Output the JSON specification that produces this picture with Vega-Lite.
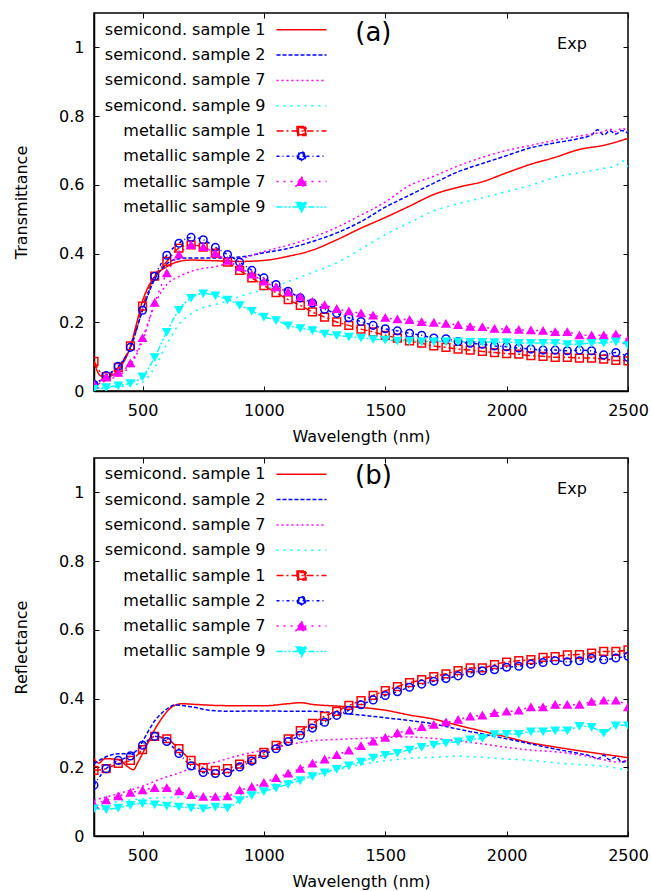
{
"$schema": "https://vega.github.io/schema/vega-lite/v6.json",
"padding": {"left": 12, "top": 11, "right": 5, "bottom": 0},
"spacing": 11,
"config": {
  "font": "DejaVu Sans",
  "view": {"stroke": "black", "strokeWidth": 1.5},
  "axis": {"grid": false, "labelFont": "DejaVu Sans", "labelFontSize": 16, "labelColor": "black", "titleFont": "DejaVu Sans", "titleFontSize": 16, "titleFontWeight": "normal", "titleColor": "black", "domainColor": "black", "domainWidth": 1.5, "tickColor": "black", "tickSize": -5, "tickWidth": 1, "labelFlush": false},
  "axisX": {"labelPadding": 16, "titlePadding": 10},
  "axisY": {"labelPadding": 15, "titlePadding": 29},
  "legend": {"orient": "none", "legendX": 199.5, "legendY": 8.8, "padding": 0, "labelFont": "DejaVu Sans", "labelFontSize": 16, "labelColor": "black", "labelLimit": 400, "symbolSize": 100, "symbolStrokeWidth": 1.5, "labelAlign": "right", "labelOffset": -44, "rowPadding": 9.3, "title": null}
},
"resolve": {"scale": {"color": "independent", "strokeDash": "independent", "stroke": "independent", "fill": "independent", "shape": "independent", "size": "independent"}},
"datasets": {
"T": [
{"s":"semicond. sample 1","w":300,"v":0.085},{"s":"semicond. sample 1","w":325,"v":0.045},{"s":"semicond. sample 1","w":350,"v":0.04},{"s":"semicond. sample 1","w":400,"v":0.062},{"s":"semicond. sample 1","w":450,"v":0.13},{"s":"semicond. sample 1","w":475,"v":0.195},{"s":"semicond. sample 1","w":500,"v":0.262},{"s":"semicond. sample 1","w":525,"v":0.305},{"s":"semicond. sample 1","w":550,"v":0.333},{"s":"semicond. sample 1","w":600,"v":0.362},{"s":"semicond. sample 1","w":650,"v":0.377},{"s":"semicond. sample 1","w":700,"v":0.381},{"s":"semicond. sample 1","w":800,"v":0.379},{"s":"semicond. sample 1","w":900,"v":0.377},{"s":"semicond. sample 1","w":1000,"v":0.38},{"s":"semicond. sample 1","w":1100,"v":0.392},{"s":"semicond. sample 1","w":1200,"v":0.41},{"s":"semicond. sample 1","w":1300,"v":0.44},{"s":"semicond. sample 1","w":1400,"v":0.474},{"s":"semicond. sample 1","w":1500,"v":0.505},{"s":"semicond. sample 1","w":1600,"v":0.538},{"s":"semicond. sample 1","w":1700,"v":0.572},{"s":"semicond. sample 1","w":1800,"v":0.593},{"s":"semicond. sample 1","w":1900,"v":0.609},{"s":"semicond. sample 1","w":2000,"v":0.635},{"s":"semicond. sample 1","w":2100,"v":0.66},{"s":"semicond. sample 1","w":2200,"v":0.68},{"s":"semicond. sample 1","w":2300,"v":0.703},{"s":"semicond. sample 1","w":2400,"v":0.715},{"s":"semicond. sample 1","w":2500,"v":0.735},
{"s":"semicond. sample 2","w":300,"v":0.02},{"s":"semicond. sample 2","w":350,"v":0.04},{"s":"semicond. sample 2","w":400,"v":0.07},{"s":"semicond. sample 2","w":450,"v":0.125},{"s":"semicond. sample 2","w":500,"v":0.235},{"s":"semicond. sample 2","w":550,"v":0.325},{"s":"semicond. sample 2","w":600,"v":0.37},{"s":"semicond. sample 2","w":650,"v":0.385},{"s":"semicond. sample 2","w":700,"v":0.387},{"s":"semicond. sample 2","w":800,"v":0.387},{"s":"semicond. sample 2","w":900,"v":0.39},{"s":"semicond. sample 2","w":1000,"v":0.402},{"s":"semicond. sample 2","w":1100,"v":0.415},{"s":"semicond. sample 2","w":1200,"v":0.435},{"s":"semicond. sample 2","w":1300,"v":0.46},{"s":"semicond. sample 2","w":1400,"v":0.493},{"s":"semicond. sample 2","w":1500,"v":0.535},{"s":"semicond. sample 2","w":1600,"v":0.57},{"s":"semicond. sample 2","w":1700,"v":0.605},{"s":"semicond. sample 2","w":1800,"v":0.638},{"s":"semicond. sample 2","w":1900,"v":0.662},{"s":"semicond. sample 2","w":2000,"v":0.685},{"s":"semicond. sample 2","w":2100,"v":0.708},{"s":"semicond. sample 2","w":2200,"v":0.722},{"s":"semicond. sample 2","w":2300,"v":0.735},{"s":"semicond. sample 2","w":2350,"v":0.745},{"s":"semicond. sample 2","w":2375,"v":0.76},{"s":"semicond. sample 2","w":2400,"v":0.745},{"s":"semicond. sample 2","w":2425,"v":0.757},{"s":"semicond. sample 2","w":2450,"v":0.748},{"s":"semicond. sample 2","w":2475,"v":0.758},{"s":"semicond. sample 2","w":2500,"v":0.75},
{"s":"semicond. sample 7","w":300,"v":0.015},{"s":"semicond. sample 7","w":350,"v":0.03},{"s":"semicond. sample 7","w":400,"v":0.045},{"s":"semicond. sample 7","w":450,"v":0.075},{"s":"semicond. sample 7","w":500,"v":0.146},{"s":"semicond. sample 7","w":550,"v":0.252},{"s":"semicond. sample 7","w":600,"v":0.31},{"s":"semicond. sample 7","w":650,"v":0.333},{"s":"semicond. sample 7","w":700,"v":0.348},{"s":"semicond. sample 7","w":750,"v":0.357},{"s":"semicond. sample 7","w":800,"v":0.362},{"s":"semicond. sample 7","w":900,"v":0.383},{"s":"semicond. sample 7","w":1000,"v":0.406},{"s":"semicond. sample 7","w":1100,"v":0.424},{"s":"semicond. sample 7","w":1200,"v":0.447},{"s":"semicond. sample 7","w":1300,"v":0.476},{"s":"semicond. sample 7","w":1400,"v":0.512},{"s":"semicond. sample 7","w":1500,"v":0.55},{"s":"semicond. sample 7","w":1600,"v":0.598},{"s":"semicond. sample 7","w":1700,"v":0.625},{"s":"semicond. sample 7","w":1800,"v":0.655},{"s":"semicond. sample 7","w":1900,"v":0.68},{"s":"semicond. sample 7","w":2000,"v":0.7},{"s":"semicond. sample 7","w":2100,"v":0.715},{"s":"semicond. sample 7","w":2200,"v":0.73},{"s":"semicond. sample 7","w":2300,"v":0.742},{"s":"semicond. sample 7","w":2350,"v":0.748},{"s":"semicond. sample 7","w":2400,"v":0.755},{"s":"semicond. sample 7","w":2425,"v":0.762},{"s":"semicond. sample 7","w":2450,"v":0.755},{"s":"semicond. sample 7","w":2475,"v":0.765},{"s":"semicond. sample 7","w":2500,"v":0.753},
{"s":"semicond. sample 9","w":300,"v":0.005},{"s":"semicond. sample 9","w":350,"v":0.008},{"s":"semicond. sample 9","w":400,"v":0.012},{"s":"semicond. sample 9","w":450,"v":0.017},{"s":"semicond. sample 9","w":500,"v":0.025},{"s":"semicond. sample 9","w":550,"v":0.069},{"s":"semicond. sample 9","w":600,"v":0.136},{"s":"semicond. sample 9","w":650,"v":0.194},{"s":"semicond. sample 9","w":700,"v":0.225},{"s":"semicond. sample 9","w":750,"v":0.243},{"s":"semicond. sample 9","w":800,"v":0.252},{"s":"semicond. sample 9","w":850,"v":0.262},{"s":"semicond. sample 9","w":900,"v":0.275},{"s":"semicond. sample 9","w":1000,"v":0.295},{"s":"semicond. sample 9","w":1100,"v":0.318},{"s":"semicond. sample 9","w":1200,"v":0.345},{"s":"semicond. sample 9","w":1300,"v":0.373},{"s":"semicond. sample 9","w":1400,"v":0.413},{"s":"semicond. sample 9","w":1500,"v":0.455},{"s":"semicond. sample 9","w":1600,"v":0.49},{"s":"semicond. sample 9","w":1700,"v":0.524},{"s":"semicond. sample 9","w":1800,"v":0.545},{"s":"semicond. sample 9","w":1900,"v":0.562},{"s":"semicond. sample 9","w":2000,"v":0.58},{"s":"semicond. sample 9","w":2100,"v":0.599},{"s":"semicond. sample 9","w":2200,"v":0.622},{"s":"semicond. sample 9","w":2300,"v":0.635},{"s":"semicond. sample 9","w":2400,"v":0.648},{"s":"semicond. sample 9","w":2450,"v":0.655},{"s":"semicond. sample 9","w":2475,"v":0.67},{"s":"semicond. sample 9","w":2500,"v":0.652},
{"s":"metallic sample 1","w":300,"v":0.086},{"s":"metallic sample 1","w":350,"v":0.042},{"s":"metallic sample 1","w":400,"v":0.069},{"s":"metallic sample 1","w":450,"v":0.131},{"s":"metallic sample 1","w":500,"v":0.247},{"s":"metallic sample 1","w":550,"v":0.334},{"s":"metallic sample 1","w":600,"v":0.377},{"s":"metallic sample 1","w":650,"v":0.416},{"s":"metallic sample 1","w":700,"v":0.425},{"s":"metallic sample 1","w":750,"v":0.419},{"s":"metallic sample 1","w":800,"v":0.401},{"s":"metallic sample 1","w":850,"v":0.375},{"s":"metallic sample 1","w":900,"v":0.351},{"s":"metallic sample 1","w":950,"v":0.329},{"s":"metallic sample 1","w":1000,"v":0.307},{"s":"metallic sample 1","w":1050,"v":0.286},{"s":"metallic sample 1","w":1100,"v":0.266},{"s":"metallic sample 1","w":1150,"v":0.249},{"s":"metallic sample 1","w":1200,"v":0.23},{"s":"metallic sample 1","w":1250,"v":0.215},{"s":"metallic sample 1","w":1300,"v":0.201},{"s":"metallic sample 1","w":1350,"v":0.191},{"s":"metallic sample 1","w":1400,"v":0.18},{"s":"metallic sample 1","w":1450,"v":0.172},{"s":"metallic sample 1","w":1500,"v":0.162},{"s":"metallic sample 1","w":1550,"v":0.154},{"s":"metallic sample 1","w":1600,"v":0.146},{"s":"metallic sample 1","w":1650,"v":0.139},{"s":"metallic sample 1","w":1700,"v":0.131},{"s":"metallic sample 1","w":1750,"v":0.127},{"s":"metallic sample 1","w":1800,"v":0.122},{"s":"metallic sample 1","w":1850,"v":0.119},{"s":"metallic sample 1","w":1900,"v":0.115},{"s":"metallic sample 1","w":1950,"v":0.112},{"s":"metallic sample 1","w":2000,"v":0.109},{"s":"metallic sample 1","w":2050,"v":0.107},{"s":"metallic sample 1","w":2100,"v":0.103},{"s":"metallic sample 1","w":2150,"v":0.101},{"s":"metallic sample 1","w":2200,"v":0.098},{"s":"metallic sample 1","w":2250,"v":0.098},{"s":"metallic sample 1","w":2300,"v":0.096},{"s":"metallic sample 1","w":2350,"v":0.096},{"s":"metallic sample 1","w":2400,"v":0.093},{"s":"metallic sample 1","w":2450,"v":0.089},{"s":"metallic sample 1","w":2500,"v":0.088},
{"s":"metallic sample 2","w":300,"v":0.019},{"s":"metallic sample 2","w":350,"v":0.045},{"s":"metallic sample 2","w":400,"v":0.072},{"s":"metallic sample 2","w":450,"v":0.127},{"s":"metallic sample 2","w":500,"v":0.235},{"s":"metallic sample 2","w":550,"v":0.334},{"s":"metallic sample 2","w":600,"v":0.395},{"s":"metallic sample 2","w":650,"v":0.43},{"s":"metallic sample 2","w":700,"v":0.447},{"s":"metallic sample 2","w":750,"v":0.44},{"s":"metallic sample 2","w":800,"v":0.418},{"s":"metallic sample 2","w":850,"v":0.397},{"s":"metallic sample 2","w":900,"v":0.375},{"s":"metallic sample 2","w":950,"v":0.351},{"s":"metallic sample 2","w":1000,"v":0.329},{"s":"metallic sample 2","w":1050,"v":0.31},{"s":"metallic sample 2","w":1100,"v":0.29},{"s":"metallic sample 2","w":1150,"v":0.271},{"s":"metallic sample 2","w":1200,"v":0.256},{"s":"metallic sample 2","w":1250,"v":0.238},{"s":"metallic sample 2","w":1300,"v":0.226},{"s":"metallic sample 2","w":1350,"v":0.213},{"s":"metallic sample 2","w":1400,"v":0.202},{"s":"metallic sample 2","w":1450,"v":0.191},{"s":"metallic sample 2","w":1500,"v":0.181},{"s":"metallic sample 2","w":1550,"v":0.175},{"s":"metallic sample 2","w":1600,"v":0.168},{"s":"metallic sample 2","w":1650,"v":0.162},{"s":"metallic sample 2","w":1700,"v":0.154},{"s":"metallic sample 2","w":1750,"v":0.152},{"s":"metallic sample 2","w":1800,"v":0.144},{"s":"metallic sample 2","w":1850,"v":0.139},{"s":"metallic sample 2","w":1900,"v":0.136},{"s":"metallic sample 2","w":1950,"v":0.131},{"s":"metallic sample 2","w":2000,"v":0.129},{"s":"metallic sample 2","w":2050,"v":0.125},{"s":"metallic sample 2","w":2100,"v":0.122},{"s":"metallic sample 2","w":2150,"v":0.119},{"s":"metallic sample 2","w":2200,"v":0.119},{"s":"metallic sample 2","w":2250,"v":0.117},{"s":"metallic sample 2","w":2300,"v":0.119},{"s":"metallic sample 2","w":2350,"v":0.117},{"s":"metallic sample 2","w":2400,"v":0.105},{"s":"metallic sample 2","w":2450,"v":0.112},{"s":"metallic sample 2","w":2500,"v":0.098},
{"s":"metallic sample 7","w":300,"v":0.019},{"s":"metallic sample 7","w":350,"v":0.04},{"s":"metallic sample 7","w":400,"v":0.053},{"s":"metallic sample 7","w":450,"v":0.081},{"s":"metallic sample 7","w":500,"v":0.154},{"s":"metallic sample 7","w":550,"v":0.257},{"s":"metallic sample 7","w":600,"v":0.343},{"s":"metallic sample 7","w":650,"v":0.397},{"s":"metallic sample 7","w":700,"v":0.425},{"s":"metallic sample 7","w":750,"v":0.419},{"s":"metallic sample 7","w":800,"v":0.401},{"s":"metallic sample 7","w":850,"v":0.379},{"s":"metallic sample 7","w":900,"v":0.36},{"s":"metallic sample 7","w":950,"v":0.339},{"s":"metallic sample 7","w":1000,"v":0.319},{"s":"metallic sample 7","w":1050,"v":0.302},{"s":"metallic sample 7","w":1100,"v":0.288},{"s":"metallic sample 7","w":1150,"v":0.274},{"s":"metallic sample 7","w":1200,"v":0.26},{"s":"metallic sample 7","w":1250,"v":0.25},{"s":"metallic sample 7","w":1300,"v":0.239},{"s":"metallic sample 7","w":1350,"v":0.232},{"s":"metallic sample 7","w":1400,"v":0.226},{"s":"metallic sample 7","w":1450,"v":0.22},{"s":"metallic sample 7","w":1500,"v":0.213},{"s":"metallic sample 7","w":1550,"v":0.209},{"s":"metallic sample 7","w":1600,"v":0.207},{"s":"metallic sample 7","w":1650,"v":0.201},{"s":"metallic sample 7","w":1700,"v":0.199},{"s":"metallic sample 7","w":1750,"v":0.196},{"s":"metallic sample 7","w":1800,"v":0.192},{"s":"metallic sample 7","w":1850,"v":0.187},{"s":"metallic sample 7","w":1900,"v":0.186},{"s":"metallic sample 7","w":1950,"v":0.181},{"s":"metallic sample 7","w":2000,"v":0.18},{"s":"metallic sample 7","w":2050,"v":0.178},{"s":"metallic sample 7","w":2100,"v":0.177},{"s":"metallic sample 7","w":2150,"v":0.175},{"s":"metallic sample 7","w":2200,"v":0.172},{"s":"metallic sample 7","w":2250,"v":0.172},{"s":"metallic sample 7","w":2300,"v":0.162},{"s":"metallic sample 7","w":2350,"v":0.162},{"s":"metallic sample 7","w":2400,"v":0.162},{"s":"metallic sample 7","w":2450,"v":0.165},{"s":"metallic sample 7","w":2500,"v":0.148},
{"s":"metallic sample 9","w":300,"v":0.006},{"s":"metallic sample 9","w":350,"v":0.011},{"s":"metallic sample 9","w":400,"v":0.016},{"s":"metallic sample 9","w":450,"v":0.023},{"s":"metallic sample 9","w":500,"v":0.042},{"s":"metallic sample 9","w":550,"v":0.098},{"s":"metallic sample 9","w":600,"v":0.172},{"s":"metallic sample 9","w":650,"v":0.236},{"s":"metallic sample 9","w":700,"v":0.271},{"s":"metallic sample 9","w":750,"v":0.284},{"s":"metallic sample 9","w":800,"v":0.278},{"s":"metallic sample 9","w":850,"v":0.266},{"s":"metallic sample 9","w":900,"v":0.25},{"s":"metallic sample 9","w":950,"v":0.233},{"s":"metallic sample 9","w":1000,"v":0.216},{"s":"metallic sample 9","w":1050,"v":0.206},{"s":"metallic sample 9","w":1100,"v":0.191},{"s":"metallic sample 9","w":1150,"v":0.183},{"s":"metallic sample 9","w":1200,"v":0.177},{"s":"metallic sample 9","w":1250,"v":0.167},{"s":"metallic sample 9","w":1300,"v":0.162},{"s":"metallic sample 9","w":1350,"v":0.158},{"s":"metallic sample 9","w":1400,"v":0.155},{"s":"metallic sample 9","w":1450,"v":0.151},{"s":"metallic sample 9","w":1500,"v":0.149},{"s":"metallic sample 9","w":1550,"v":0.146},{"s":"metallic sample 9","w":1600,"v":0.146},{"s":"metallic sample 9","w":1650,"v":0.144},{"s":"metallic sample 9","w":1700,"v":0.144},{"s":"metallic sample 9","w":1750,"v":0.144},{"s":"metallic sample 9","w":1800,"v":0.144},{"s":"metallic sample 9","w":1850,"v":0.143},{"s":"metallic sample 9","w":1900,"v":0.143},{"s":"metallic sample 9","w":1950,"v":0.142},{"s":"metallic sample 9","w":2000,"v":0.142},{"s":"metallic sample 9","w":2050,"v":0.14},{"s":"metallic sample 9","w":2100,"v":0.14},{"s":"metallic sample 9","w":2150,"v":0.14},{"s":"metallic sample 9","w":2200,"v":0.14},{"s":"metallic sample 9","w":2250,"v":0.136},{"s":"metallic sample 9","w":2300,"v":0.136},{"s":"metallic sample 9","w":2350,"v":0.14},{"s":"metallic sample 9","w":2400,"v":0.14},{"s":"metallic sample 9","w":2450,"v":0.144},{"s":"metallic sample 9","w":2500,"v":0.133}
],
"R": [
{"s":"semicond. sample 1","w":300,"v":0.225},{"s":"semicond. sample 1","w":320,"v":0.212},{"s":"semicond. sample 1","w":345,"v":0.225},{"s":"semicond. sample 1","w":400,"v":0.222},{"s":"semicond. sample 1","w":440,"v":0.201},{"s":"semicond. sample 1","w":462,"v":0.193},{"s":"semicond. sample 1","w":482,"v":0.216},{"s":"semicond. sample 1","w":510,"v":0.254},{"s":"semicond. sample 1","w":537,"v":0.293},{"s":"semicond. sample 1","w":578,"v":0.341},{"s":"semicond. sample 1","w":620,"v":0.375},{"s":"semicond. sample 1","w":661,"v":0.385},{"s":"semicond. sample 1","w":716,"v":0.383},{"s":"semicond. sample 1","w":800,"v":0.38},{"s":"semicond. sample 1","w":900,"v":0.379},{"s":"semicond. sample 1","w":1000,"v":0.379},{"s":"semicond. sample 1","w":1100,"v":0.385},{"s":"semicond. sample 1","w":1150,"v":0.388},{"s":"semicond. sample 1","w":1200,"v":0.383},{"s":"semicond. sample 1","w":1300,"v":0.378},{"s":"semicond. sample 1","w":1400,"v":0.374},{"s":"semicond. sample 1","w":1500,"v":0.366},{"s":"semicond. sample 1","w":1600,"v":0.352},{"s":"semicond. sample 1","w":1700,"v":0.34},{"s":"semicond. sample 1","w":1800,"v":0.322},{"s":"semicond. sample 1","w":1900,"v":0.305},{"s":"semicond. sample 1","w":2000,"v":0.288},{"s":"semicond. sample 1","w":2100,"v":0.271},{"s":"semicond. sample 1","w":2200,"v":0.259},{"s":"semicond. sample 1","w":2300,"v":0.248},{"s":"semicond. sample 1","w":2400,"v":0.238},{"s":"semicond. sample 1","w":2500,"v":0.228},
{"s":"semicond. sample 2","w":300,"v":0.21},{"s":"semicond. sample 2","w":345,"v":0.229},{"s":"semicond. sample 2","w":400,"v":0.239},{"s":"semicond. sample 2","w":450,"v":0.239},{"s":"semicond. sample 2","w":482,"v":0.254},{"s":"semicond. sample 2","w":510,"v":0.288},{"s":"semicond. sample 2","w":551,"v":0.336},{"s":"semicond. sample 2","w":592,"v":0.365},{"s":"semicond. sample 2","w":633,"v":0.381},{"s":"semicond. sample 2","w":700,"v":0.376},{"s":"semicond. sample 2","w":785,"v":0.365},{"s":"semicond. sample 2","w":867,"v":0.363},{"s":"semicond. sample 2","w":1000,"v":0.364},{"s":"semicond. sample 2","w":1100,"v":0.363},{"s":"semicond. sample 2","w":1200,"v":0.363},{"s":"semicond. sample 2","w":1300,"v":0.358},{"s":"semicond. sample 2","w":1400,"v":0.352},{"s":"semicond. sample 2","w":1500,"v":0.344},{"s":"semicond. sample 2","w":1600,"v":0.336},{"s":"semicond. sample 2","w":1700,"v":0.326},{"s":"semicond. sample 2","w":1800,"v":0.311},{"s":"semicond. sample 2","w":1900,"v":0.297},{"s":"semicond. sample 2","w":2000,"v":0.283},{"s":"semicond. sample 2","w":2100,"v":0.268},{"s":"semicond. sample 2","w":2200,"v":0.253},{"s":"semicond. sample 2","w":2300,"v":0.24},{"s":"semicond. sample 2","w":2350,"v":0.232},{"s":"semicond. sample 2","w":2375,"v":0.225},{"s":"semicond. sample 2","w":2400,"v":0.235},{"s":"semicond. sample 2","w":2425,"v":0.222},{"s":"semicond. sample 2","w":2450,"v":0.23},{"s":"semicond. sample 2","w":2475,"v":0.215},{"s":"semicond. sample 2","w":2500,"v":0.22},
{"s":"semicond. sample 7","w":300,"v":0.104},{"s":"semicond. sample 7","w":400,"v":0.123},{"s":"semicond. sample 7","w":500,"v":0.145},{"s":"semicond. sample 7","w":578,"v":0.167},{"s":"semicond. sample 7","w":661,"v":0.186},{"s":"semicond. sample 7","w":716,"v":0.202},{"s":"semicond. sample 7","w":800,"v":0.215},{"s":"semicond. sample 7","w":900,"v":0.235},{"s":"semicond. sample 7","w":1000,"v":0.25},{"s":"semicond. sample 7","w":1100,"v":0.265},{"s":"semicond. sample 7","w":1200,"v":0.277},{"s":"semicond. sample 7","w":1300,"v":0.281},{"s":"semicond. sample 7","w":1400,"v":0.284},{"s":"semicond. sample 7","w":1500,"v":0.287},{"s":"semicond. sample 7","w":1600,"v":0.288},{"s":"semicond. sample 7","w":1700,"v":0.284},{"s":"semicond. sample 7","w":1800,"v":0.277},{"s":"semicond. sample 7","w":1900,"v":0.268},{"s":"semicond. sample 7","w":2000,"v":0.258},{"s":"semicond. sample 7","w":2100,"v":0.25},{"s":"semicond. sample 7","w":2200,"v":0.245},{"s":"semicond. sample 7","w":2300,"v":0.236},{"s":"semicond. sample 7","w":2400,"v":0.222},{"s":"semicond. sample 7","w":2450,"v":0.215},{"s":"semicond. sample 7","w":2500,"v":0.222},
{"s":"semicond. sample 9","w":300,"v":0.085},{"s":"semicond. sample 9","w":400,"v":0.1},{"s":"semicond. sample 9","w":500,"v":0.108},{"s":"semicond. sample 9","w":650,"v":0.113},{"s":"semicond. sample 9","w":785,"v":0.114},{"s":"semicond. sample 9","w":867,"v":0.115},{"s":"semicond. sample 9","w":1000,"v":0.143},{"s":"semicond. sample 9","w":1100,"v":0.16},{"s":"semicond. sample 9","w":1200,"v":0.176},{"s":"semicond. sample 9","w":1300,"v":0.192},{"s":"semicond. sample 9","w":1400,"v":0.208},{"s":"semicond. sample 9","w":1500,"v":0.219},{"s":"semicond. sample 9","w":1600,"v":0.226},{"s":"semicond. sample 9","w":1700,"v":0.229},{"s":"semicond. sample 9","w":1800,"v":0.232},{"s":"semicond. sample 9","w":1900,"v":0.229},{"s":"semicond. sample 9","w":2000,"v":0.224},{"s":"semicond. sample 9","w":2100,"v":0.22},{"s":"semicond. sample 9","w":2200,"v":0.213},{"s":"semicond. sample 9","w":2300,"v":0.208},{"s":"semicond. sample 9","w":2400,"v":0.203},{"s":"semicond. sample 9","w":2450,"v":0.198},{"s":"semicond. sample 9","w":2500,"v":0.191},
{"s":"metallic sample 1","w":300,"v":0.191},{"s":"metallic sample 1","w":350,"v":0.196},{"s":"metallic sample 1","w":400,"v":0.211},{"s":"metallic sample 1","w":450,"v":0.22},{"s":"metallic sample 1","w":500,"v":0.251},{"s":"metallic sample 1","w":550,"v":0.29},{"s":"metallic sample 1","w":600,"v":0.283},{"s":"metallic sample 1","w":650,"v":0.254},{"s":"metallic sample 1","w":700,"v":0.22},{"s":"metallic sample 1","w":750,"v":0.199},{"s":"metallic sample 1","w":800,"v":0.191},{"s":"metallic sample 1","w":850,"v":0.196},{"s":"metallic sample 1","w":900,"v":0.209},{"s":"metallic sample 1","w":950,"v":0.223},{"s":"metallic sample 1","w":1000,"v":0.243},{"s":"metallic sample 1","w":1050,"v":0.264},{"s":"metallic sample 1","w":1100,"v":0.283},{"s":"metallic sample 1","w":1150,"v":0.307},{"s":"metallic sample 1","w":1200,"v":0.328},{"s":"metallic sample 1","w":1250,"v":0.348},{"s":"metallic sample 1","w":1300,"v":0.363},{"s":"metallic sample 1","w":1350,"v":0.38},{"s":"metallic sample 1","w":1400,"v":0.394},{"s":"metallic sample 1","w":1450,"v":0.409},{"s":"metallic sample 1","w":1500,"v":0.423},{"s":"metallic sample 1","w":1550,"v":0.435},{"s":"metallic sample 1","w":1600,"v":0.446},{"s":"metallic sample 1","w":1650,"v":0.455},{"s":"metallic sample 1","w":1700,"v":0.464},{"s":"metallic sample 1","w":1750,"v":0.472},{"s":"metallic sample 1","w":1800,"v":0.481},{"s":"metallic sample 1","w":1850,"v":0.489},{"s":"metallic sample 1","w":1900,"v":0.489},{"s":"metallic sample 1","w":1950,"v":0.499},{"s":"metallic sample 1","w":2000,"v":0.506},{"s":"metallic sample 1","w":2050,"v":0.51},{"s":"metallic sample 1","w":2100,"v":0.513},{"s":"metallic sample 1","w":2150,"v":0.52},{"s":"metallic sample 1","w":2200,"v":0.522},{"s":"metallic sample 1","w":2250,"v":0.527},{"s":"metallic sample 1","w":2300,"v":0.528},{"s":"metallic sample 1","w":2350,"v":0.532},{"s":"metallic sample 1","w":2400,"v":0.537},{"s":"metallic sample 1","w":2450,"v":0.537},{"s":"metallic sample 1","w":2500,"v":0.542},
{"s":"metallic sample 2","w":300,"v":0.148},{"s":"metallic sample 2","w":350,"v":0.196},{"s":"metallic sample 2","w":400,"v":0.22},{"s":"metallic sample 2","w":450,"v":0.233},{"s":"metallic sample 2","w":500,"v":0.264},{"s":"metallic sample 2","w":550,"v":0.29},{"s":"metallic sample 2","w":600,"v":0.275},{"s":"metallic sample 2","w":650,"v":0.24},{"s":"metallic sample 2","w":700,"v":0.204},{"s":"metallic sample 2","w":750,"v":0.185},{"s":"metallic sample 2","w":800,"v":0.182},{"s":"metallic sample 2","w":850,"v":0.184},{"s":"metallic sample 2","w":900,"v":0.201},{"s":"metallic sample 2","w":950,"v":0.218},{"s":"metallic sample 2","w":1000,"v":0.237},{"s":"metallic sample 2","w":1050,"v":0.254},{"s":"metallic sample 2","w":1100,"v":0.275},{"s":"metallic sample 2","w":1150,"v":0.293},{"s":"metallic sample 2","w":1200,"v":0.314},{"s":"metallic sample 2","w":1250,"v":0.331},{"s":"metallic sample 2","w":1300,"v":0.351},{"s":"metallic sample 2","w":1350,"v":0.366},{"s":"metallic sample 2","w":1400,"v":0.382},{"s":"metallic sample 2","w":1450,"v":0.396},{"s":"metallic sample 2","w":1500,"v":0.409},{"s":"metallic sample 2","w":1550,"v":0.42},{"s":"metallic sample 2","w":1600,"v":0.433},{"s":"metallic sample 2","w":1650,"v":0.442},{"s":"metallic sample 2","w":1700,"v":0.45},{"s":"metallic sample 2","w":1750,"v":0.458},{"s":"metallic sample 2","w":1800,"v":0.466},{"s":"metallic sample 2","w":1850,"v":0.474},{"s":"metallic sample 2","w":1900,"v":0.481},{"s":"metallic sample 2","w":1950,"v":0.484},{"s":"metallic sample 2","w":2000,"v":0.491},{"s":"metallic sample 2","w":2050,"v":0.494},{"s":"metallic sample 2","w":2100,"v":0.5},{"s":"metallic sample 2","w":2150,"v":0.505},{"s":"metallic sample 2","w":2200,"v":0.51},{"s":"metallic sample 2","w":2250,"v":0.507},{"s":"metallic sample 2","w":2300,"v":0.51},{"s":"metallic sample 2","w":2350,"v":0.517},{"s":"metallic sample 2","w":2400,"v":0.513},{"s":"metallic sample 2","w":2450,"v":0.518},{"s":"metallic sample 2","w":2500,"v":0.523},
{"s":"metallic sample 7","w":300,"v":0.092},{"s":"metallic sample 7","w":350,"v":0.104},{"s":"metallic sample 7","w":400,"v":0.116},{"s":"metallic sample 7","w":450,"v":0.126},{"s":"metallic sample 7","w":500,"v":0.133},{"s":"metallic sample 7","w":550,"v":0.14},{"s":"metallic sample 7","w":600,"v":0.14},{"s":"metallic sample 7","w":650,"v":0.13},{"s":"metallic sample 7","w":700,"v":0.119},{"s":"metallic sample 7","w":750,"v":0.114},{"s":"metallic sample 7","w":800,"v":0.114},{"s":"metallic sample 7","w":850,"v":0.116},{"s":"metallic sample 7","w":900,"v":0.133},{"s":"metallic sample 7","w":950,"v":0.143},{"s":"metallic sample 7","w":1000,"v":0.155},{"s":"metallic sample 7","w":1050,"v":0.169},{"s":"metallic sample 7","w":1100,"v":0.182},{"s":"metallic sample 7","w":1150,"v":0.196},{"s":"metallic sample 7","w":1200,"v":0.211},{"s":"metallic sample 7","w":1250,"v":0.223},{"s":"metallic sample 7","w":1300,"v":0.236},{"s":"metallic sample 7","w":1350,"v":0.249},{"s":"metallic sample 7","w":1400,"v":0.262},{"s":"metallic sample 7","w":1450,"v":0.275},{"s":"metallic sample 7","w":1500,"v":0.286},{"s":"metallic sample 7","w":1550,"v":0.3},{"s":"metallic sample 7","w":1600,"v":0.307},{"s":"metallic sample 7","w":1650,"v":0.317},{"s":"metallic sample 7","w":1700,"v":0.324},{"s":"metallic sample 7","w":1750,"v":0.331},{"s":"metallic sample 7","w":1800,"v":0.338},{"s":"metallic sample 7","w":1850,"v":0.348},{"s":"metallic sample 7","w":1900,"v":0.351},{"s":"metallic sample 7","w":1950,"v":0.358},{"s":"metallic sample 7","w":2000,"v":0.362},{"s":"metallic sample 7","w":2050,"v":0.365},{"s":"metallic sample 7","w":2100,"v":0.375},{"s":"metallic sample 7","w":2150,"v":0.375},{"s":"metallic sample 7","w":2200,"v":0.382},{"s":"metallic sample 7","w":2250,"v":0.382},{"s":"metallic sample 7","w":2300,"v":0.382},{"s":"metallic sample 7","w":2350,"v":0.391},{"s":"metallic sample 7","w":2400,"v":0.394},{"s":"metallic sample 7","w":2450,"v":0.394},{"s":"metallic sample 7","w":2500,"v":0.375},
{"s":"metallic sample 9","w":300,"v":0.08},{"s":"metallic sample 9","w":350,"v":0.078},{"s":"metallic sample 9","w":400,"v":0.082},{"s":"metallic sample 9","w":450,"v":0.09},{"s":"metallic sample 9","w":500,"v":0.095},{"s":"metallic sample 9","w":550,"v":0.092},{"s":"metallic sample 9","w":600,"v":0.088},{"s":"metallic sample 9","w":650,"v":0.085},{"s":"metallic sample 9","w":700,"v":0.082},{"s":"metallic sample 9","w":750,"v":0.08},{"s":"metallic sample 9","w":800,"v":0.085},{"s":"metallic sample 9","w":850,"v":0.082},{"s":"metallic sample 9","w":900,"v":0.104},{"s":"metallic sample 9","w":950,"v":0.119},{"s":"metallic sample 9","w":1000,"v":0.13},{"s":"metallic sample 9","w":1050,"v":0.14},{"s":"metallic sample 9","w":1100,"v":0.151},{"s":"metallic sample 9","w":1150,"v":0.162},{"s":"metallic sample 9","w":1200,"v":0.174},{"s":"metallic sample 9","w":1250,"v":0.185},{"s":"metallic sample 9","w":1300,"v":0.195},{"s":"metallic sample 9","w":1350,"v":0.205},{"s":"metallic sample 9","w":1400,"v":0.216},{"s":"metallic sample 9","w":1450,"v":0.228},{"s":"metallic sample 9","w":1500,"v":0.236},{"s":"metallic sample 9","w":1550,"v":0.242},{"s":"metallic sample 9","w":1600,"v":0.251},{"s":"metallic sample 9","w":1650,"v":0.259},{"s":"metallic sample 9","w":1700,"v":0.266},{"s":"metallic sample 9","w":1750,"v":0.271},{"s":"metallic sample 9","w":1800,"v":0.275},{"s":"metallic sample 9","w":1850,"v":0.281},{"s":"metallic sample 9","w":1900,"v":0.285},{"s":"metallic sample 9","w":1950,"v":0.296},{"s":"metallic sample 9","w":2000,"v":0.297},{"s":"metallic sample 9","w":2050,"v":0.297},{"s":"metallic sample 9","w":2100,"v":0.304},{"s":"metallic sample 9","w":2150,"v":0.304},{"s":"metallic sample 9","w":2200,"v":0.307},{"s":"metallic sample 9","w":2250,"v":0.307},{"s":"metallic sample 9","w":2300,"v":0.32},{"s":"metallic sample 9","w":2350,"v":0.317},{"s":"metallic sample 9","w":2400,"v":0.3},{"s":"metallic sample 9","w":2450,"v":0.322},{"s":"metallic sample 9","w":2500,"v":0.322}
]
},
"vconcat": [
{
 "width": 534, "height": 378,
 "data": {"name": "T"},
 "layer": [
  {"mark": {"type": "line", "strokeWidth": 1.5, "interpolate": "monotone", "clip": true},
   "encoding": {
    "x": {"field": "w", "type": "quantitative", "scale": {"domain": [300, 2500], "nice": false, "zero": false}, "axis": {"orient": "bottom", "values": [500, 1000, 1500, 2000, 2500], "format": "d", "title": "Wavelength (nm)"}},
    "y": {"field": "v", "type": "quantitative", "scale": {"domain": [0, 1.1], "nice": false}, "axis": {"orient": "left", "values": [0, 0.2, 0.4, 0.6, 0.8, 1], "format": "~g", "title": "Transmittance"}},
    "color": {"field": "s", "type": "nominal", "scale": {"domain": ["semicond. sample 1", "semicond. sample 2", "semicond. sample 7", "semicond. sample 9", "metallic sample 1", "metallic sample 2", "metallic sample 7", "metallic sample 9"], "range": ["#ff0000", "#0000ff", "#ff00ff", "#00ffff", "#ff0000", "#0000ff", "#ff00ff", "#00ffff"]},
      "legend": {"encode": {"symbols": {"update": {
        "shape": {"signal": "datum.value === 'metallic sample 1' ? 'M-5,0H5M-0.9,-0.9H0.9V0.9H-0.9ZM-0.6,-0.6V0.6H0.6V-0.6Z' : datum.value === 'metallic sample 2' ? 'M-5,0H5M0.85,0A0.85,0.85,0,1,1,-0.85,0A0.85,0.85,0,1,1,0.85,0ZM0.55,0A0.55,0.55,0,1,0,-0.55,0A0.55,0.55,0,1,0,0.55,0Z' : datum.value === 'metallic sample 7' ? 'M-5,0H5M0,-1L1.1,0.9L-1.1,0.9Z' : datum.value === 'metallic sample 9' ? 'M-5,0H5M0,1L1.1,-0.9L-1.1,-0.9Z' : 'M-5,0H5'"},
        "fill": {"signal": "slice(datum.value,-1) === '1' ? '#ff0000' : slice(datum.value,-1) === '2' ? '#0000ff' : slice(datum.value,-1) === '7' ? '#ff00ff' : '#00ffff'"},
        "opacity": {"value": 1}}}}}},
    "strokeDash": {"field": "s", "type": "nominal", "scale": {"domain": ["semicond. sample 1", "semicond. sample 2", "semicond. sample 7", "semicond. sample 9", "metallic sample 1", "metallic sample 2", "metallic sample 7", "metallic sample 9"], "range": [[1, 0], [4, 2], [2, 3], [2, 5], [7, 3, 2, 3], [3, 3, 1, 3], [2, 5], [6, 2, 2, 2, 2, 2]]}}
   }},
  {"transform": [{"filter": {"field": "s", "oneOf": ["metallic sample 1", "metallic sample 2", "metallic sample 7", "metallic sample 9"]}}],
   "mark": {"type": "point", "strokeWidth": 1.5, "opacity": 1, "clip": true},
   "encoding": {
    "x": {"field": "w", "type": "quantitative", "axis": null},
    "y": {"field": "v", "type": "quantitative", "axis": null},
    "stroke": {"field": "s", "type": "nominal", "scale": {"domain": ["metallic sample 1", "metallic sample 2", "metallic sample 7", "metallic sample 9"], "range": ["#ff0000", "#0000ff", "#ff00ff", "#00ffff"]}, "legend": null},
    "fill": {"field": "s", "type": "nominal", "scale": {"domain": ["metallic sample 1", "metallic sample 2", "metallic sample 7", "metallic sample 9"], "range": ["transparent", "transparent", "#ff00ff", "#00ffff"]}, "legend": null},
    "shape": {"field": "s", "type": "nominal", "scale": {"domain": ["metallic sample 1", "metallic sample 2", "metallic sample 7", "metallic sample 9"], "range": ["square", "circle", "triangle-up", "triangle-down"]}, "legend": null},
    "size": {"field": "s", "type": "nominal", "scale": {"domain": ["metallic sample 1", "metallic sample 2", "metallic sample 7", "metallic sample 9"], "range": [60, 55, 80, 80]}, "legend": null}
   }},
  {"data": {"values": [{"t": "(a)"}]},
   "mark": {"type": "text", "fontSize": 26, "font": "DejaVu Sans", "color": "black", "baseline": "middle", "align": "center"},
   "encoding": {"x": {"datum": 1451, "type": "quantitative", "axis": null}, "y": {"datum": 1.043, "type": "quantitative", "axis": null}, "text": {"field": "t"}}},
  {"data": {"values": [{"t": "Exp"}]},
   "mark": {"type": "text", "fontSize": 16, "font": "DejaVu Sans", "color": "black", "baseline": "middle", "align": "center"},
   "encoding": {"x": {"datum": 2269, "type": "quantitative", "axis": null}, "y": {"datum": 1.011, "type": "quantitative", "axis": null}, "text": {"field": "t"}}},
  {"mark": {"type": "point", "opacity": 0, "size": 0},
   "encoding": {
    "x": {"field": "w", "type": "quantitative", "axis": {"orient": "top", "values": [500, 1000, 1500, 2000, 2500], "labels": false, "title": null, "domain": false}},
    "y": {"field": "v", "type": "quantitative", "axis": {"orient": "right", "values": [0, 0.2, 0.4, 0.6, 0.8, 1], "labels": false, "title": null, "domain": false}}
   }}
 ]
},
{
 "width": 534, "height": 378,
 "data": {"name": "R"},
 "layer": [
  {"mark": {"type": "line", "strokeWidth": 1.5, "interpolate": "monotone", "clip": true},
   "encoding": {
    "x": {"field": "w", "type": "quantitative", "scale": {"domain": [300, 2500], "nice": false, "zero": false}, "axis": {"orient": "bottom", "values": [500, 1000, 1500, 2000, 2500], "format": "d", "title": "Wavelength (nm)"}},
    "y": {"field": "v", "type": "quantitative", "scale": {"domain": [0, 1.1], "nice": false}, "axis": {"orient": "left", "values": [0, 0.2, 0.4, 0.6, 0.8, 1], "format": "~g", "title": "Reflectance"}},
    "color": {"field": "s", "type": "nominal", "scale": {"domain": ["semicond. sample 1", "semicond. sample 2", "semicond. sample 7", "semicond. sample 9", "metallic sample 1", "metallic sample 2", "metallic sample 7", "metallic sample 9"], "range": ["#ff0000", "#0000ff", "#ff00ff", "#00ffff", "#ff0000", "#0000ff", "#ff00ff", "#00ffff"]},
      "legend": {"legendY": 8.3, "encode": {"symbols": {"update": {
        "shape": {"signal": "datum.value === 'metallic sample 1' ? 'M-5,0H5M-0.9,-0.9H0.9V0.9H-0.9ZM-0.6,-0.6V0.6H0.6V-0.6Z' : datum.value === 'metallic sample 2' ? 'M-5,0H5M0.85,0A0.85,0.85,0,1,1,-0.85,0A0.85,0.85,0,1,1,0.85,0ZM0.55,0A0.55,0.55,0,1,0,-0.55,0A0.55,0.55,0,1,0,0.55,0Z' : datum.value === 'metallic sample 7' ? 'M-5,0H5M0,-1L1.1,0.9L-1.1,0.9Z' : datum.value === 'metallic sample 9' ? 'M-5,0H5M0,1L1.1,-0.9L-1.1,-0.9Z' : 'M-5,0H5'"},
        "fill": {"signal": "slice(datum.value,-1) === '1' ? '#ff0000' : slice(datum.value,-1) === '2' ? '#0000ff' : slice(datum.value,-1) === '7' ? '#ff00ff' : '#00ffff'"},
        "opacity": {"value": 1}}}}}},
    "strokeDash": {"field": "s", "type": "nominal", "scale": {"domain": ["semicond. sample 1", "semicond. sample 2", "semicond. sample 7", "semicond. sample 9", "metallic sample 1", "metallic sample 2", "metallic sample 7", "metallic sample 9"], "range": [[1, 0], [4, 2], [2, 3], [2, 5], [7, 3, 2, 3], [3, 3, 1, 3], [2, 5], [6, 2, 2, 2, 2, 2]]}}
   }},
  {"transform": [{"filter": {"field": "s", "oneOf": ["metallic sample 1", "metallic sample 2", "metallic sample 7", "metallic sample 9"]}}],
   "mark": {"type": "point", "strokeWidth": 1.5, "opacity": 1, "clip": true},
   "encoding": {
    "x": {"field": "w", "type": "quantitative", "axis": null},
    "y": {"field": "v", "type": "quantitative", "axis": null},
    "stroke": {"field": "s", "type": "nominal", "scale": {"domain": ["metallic sample 1", "metallic sample 2", "metallic sample 7", "metallic sample 9"], "range": ["#ff0000", "#0000ff", "#ff00ff", "#00ffff"]}, "legend": null},
    "fill": {"field": "s", "type": "nominal", "scale": {"domain": ["metallic sample 1", "metallic sample 2", "metallic sample 7", "metallic sample 9"], "range": ["transparent", "transparent", "#ff00ff", "#00ffff"]}, "legend": null},
    "shape": {"field": "s", "type": "nominal", "scale": {"domain": ["metallic sample 1", "metallic sample 2", "metallic sample 7", "metallic sample 9"], "range": ["square", "circle", "triangle-up", "triangle-down"]}, "legend": null},
    "size": {"field": "s", "type": "nominal", "scale": {"domain": ["metallic sample 1", "metallic sample 2", "metallic sample 7", "metallic sample 9"], "range": [60, 55, 80, 80]}, "legend": null}
   }},
  {"data": {"values": [{"t": "(b)"}]},
   "mark": {"type": "text", "fontSize": 26, "font": "DejaVu Sans", "color": "black", "baseline": "middle", "align": "center"},
   "encoding": {"x": {"datum": 1451, "type": "quantitative", "axis": null}, "y": {"datum": 1.048, "type": "quantitative", "axis": null}, "text": {"field": "t"}}},
  {"data": {"values": [{"t": "Exp"}]},
   "mark": {"type": "text", "fontSize": 16, "font": "DejaVu Sans", "color": "black", "baseline": "middle", "align": "center"},
   "encoding": {"x": {"datum": 2269, "type": "quantitative", "axis": null}, "y": {"datum": 1.01, "type": "quantitative", "axis": null}, "text": {"field": "t"}}},
  {"mark": {"type": "point", "opacity": 0, "size": 0},
   "encoding": {
    "x": {"field": "w", "type": "quantitative", "axis": {"orient": "top", "values": [500, 1000, 1500, 2000, 2500], "labels": false, "title": null, "domain": false}},
    "y": {"field": "v", "type": "quantitative", "axis": {"orient": "right", "values": [0, 0.2, 0.4, 0.6, 0.8, 1], "labels": false, "title": null, "domain": false}}
   }}
 ]
}
]
}
